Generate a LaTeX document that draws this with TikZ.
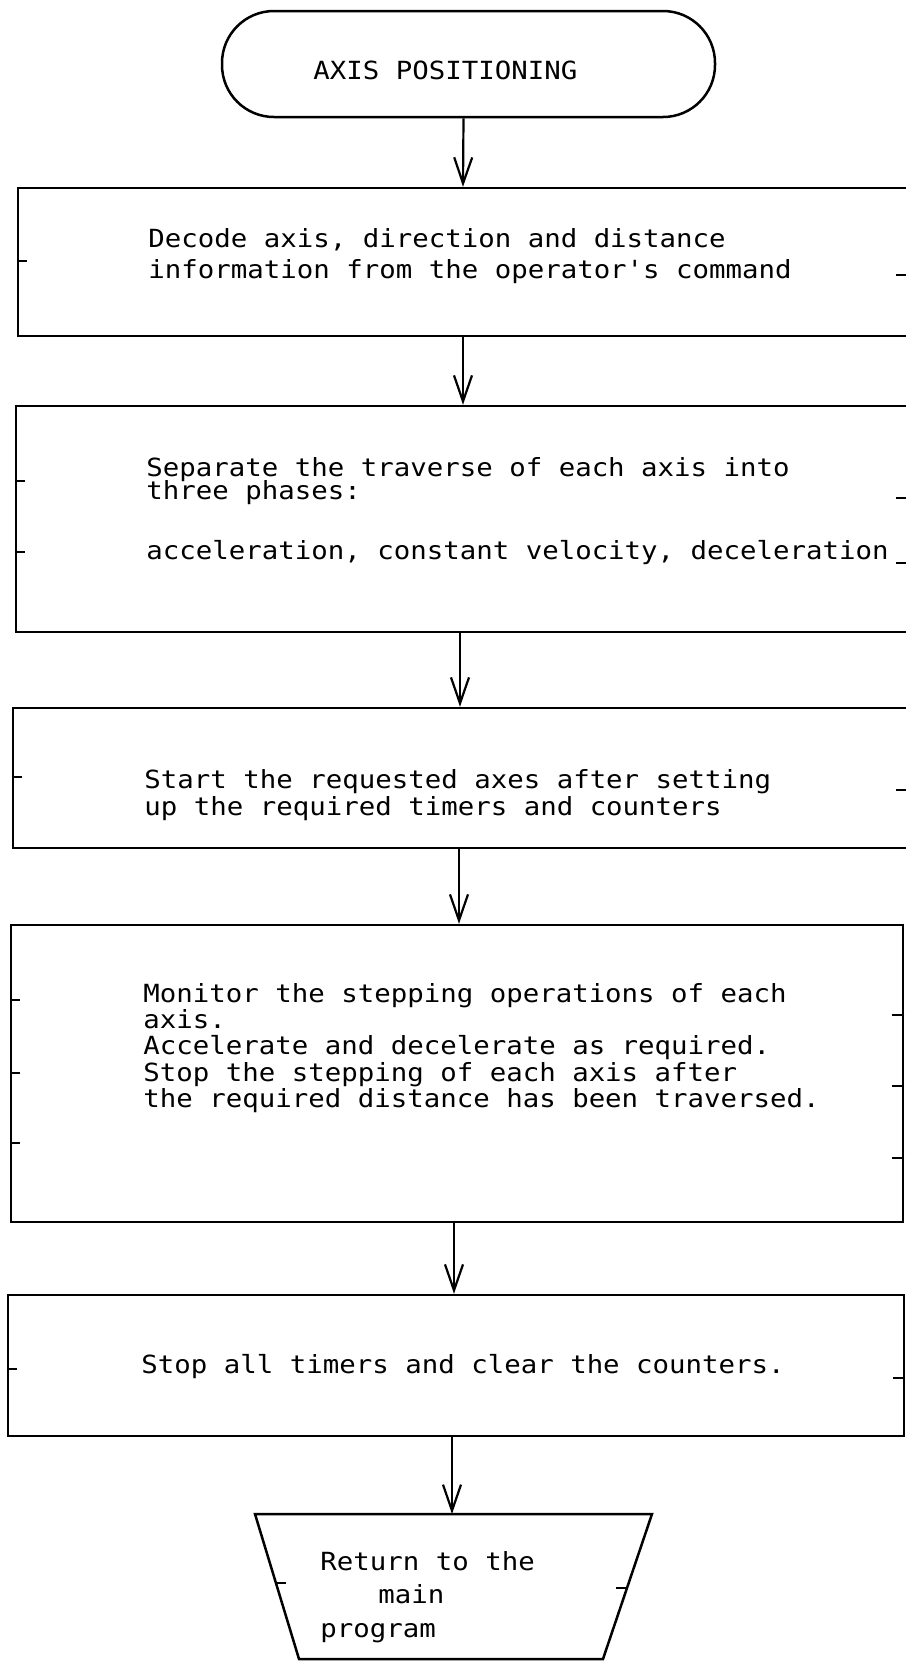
\documentclass[tikz,border=0pt]{standalone}
\usepackage{fontspec}
\newfontfamily\typewriter[FakeStretch=1.096]{DejaVu Sans Mono}
\newcommand\monotext{\typewriter\fontsize{12.5pt}{13.2pt}\selectfont
  \lineskiplimit=-100pt\lineskip=0pt}
\usetikzlibrary{arrows.meta,calc}

\tikzset{
  outline/.style={draw, line width=1.25pt},
  stepbox/.style={outline, rectangle, inner sep=0pt},
  terminal/.style={outline, rectangle, rounded corners=26pt, inner sep=0pt,
    minimum width=246.5pt, minimum height=53pt},
  exitbox/.style={outline, line join=miter},
  body/.style={font=\monotext, align=left, inner sep=0pt, anchor=west},
  flow/.style={line width=1.1pt, -{Straight Barb[length=13pt,width=9pt]}},
  tick/.style={line width=1pt}
}

\begin{document}
\begin{tikzpicture}[x=0.5pt, y=-0.5pt]
\useasboundingbox (0,0) rectangle (906,1662);
\fill[white] (0,0) rectangle (906,1662);
\clip (0,0) rectangle (906,1662);

% start terminal
\node[terminal] (start) at (468.5,64) {};
\node[body] (title) at (313,70) {AXIS POSITIONING};

% processing steps
\node[stepbox, minimum width=447pt, minimum height=74pt] (b1) at (465,262) {};
\node[body] (t1) at (148,256)
  {Decode axis, direction and distance\\[2.65pt]information from the operator\char"27 s command};

\node[stepbox, minimum width=448pt, minimum height=113pt] (b2) at (464,519) {};
\node[body] (t2) at (146,511)
  {Separate the traverse of each axis into\\[-1.55pt]three phases:\\[16.8pt]acceleration, constant velocity, deceleration};

\node[stepbox, minimum width=449.5pt, minimum height=70pt] (b3) at (462.5,778) {};
\node[body] (t3) at (144,795)
  {Start the requested axes after setting\\[0.65pt]up the required timers and counters};

\node[stepbox, minimum width=446pt, minimum height=148.5pt] (b4) at (457,1073.5) {};
\node[body] (t4) at (143,1048)
  {Monitor the stepping operations of each\\axis.\\Accelerate and decelerate as required.\\Stop the stepping of each axis after\\the required distance has been traversed.};

\node[stepbox, minimum width=448pt, minimum height=70.5pt] (b5) at (456,1365.5) {};
\node[body] (t5) at (141,1367) {Stop all timers and clear the counters.};

% exit: inverted trapezoid, its top edge midpoint named for the arrow
\coordinate (ret) at (452,1514);
\draw[exitbox] (255,1514) -- (652,1514) -- (603,1659) -- (299,1659) -- cycle;
\coordinate (retL) at (275,1583);
\coordinate (retR) at (627,1588);
\node[body] (t6) at (320,1597) {Return to the\\[3.4pt]\hspace*{29pt}main\\[3.4pt]program};

% flow arrows
\draw[flow] ([xshift=-2.5pt]start.south) -- ([xshift=-1pt]b1.north);
\draw[flow] ([xshift=-1pt]b1.south) -- ([xshift=-0.5pt]b2.north);
\draw[flow] ([xshift=-2pt]b2.south) -- ([xshift=-1.25pt]b3.north);
\draw[flow] ([xshift=-1.75pt]b3.south) -- ([xshift=1pt]b4.north);
\draw[flow] ([xshift=-1.5pt]b4.south) -- ([xshift=-1pt]b5.north);
\draw[flow] ([xshift=-2pt]b5.south) -- (ret);

% margin ticks on the box sides
\foreach \b/\d in {b1/74, b2/76, b2/147, b3/70, b4/76, b4/149, b4/219, b5/75}
  \draw[tick] ($(\b.north west)+(0,\d)$) -- ++(10,0);
\foreach \b/\d in {b1/88, b2/93, b2/158, b3/83}
  \draw[tick] ($(\b.north east)+(0,\d)$) -- ++(-17,0);
\foreach \b/\d in {b4/91, b4/162, b4/234, b5/84}
  \draw[tick] ($(\b.north east)+(0,\d)$) -- ++(-12,0);
\draw[tick] (retL) -- ++(11,0);
\draw[tick] (retR) -- ++(-11,0);
\end{tikzpicture}
\end{document}
